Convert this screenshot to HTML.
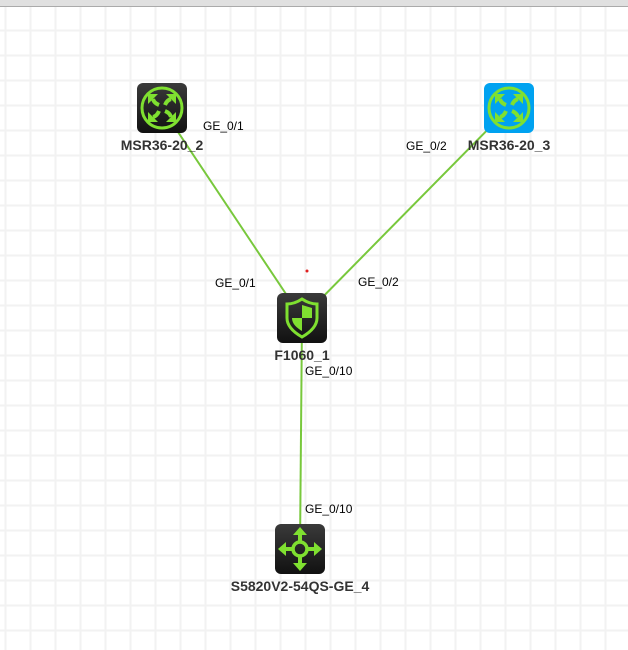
<!DOCTYPE html>
<html><head><meta charset="utf-8"><style>
html,body{margin:0;padding:0;background:#fff;}
svg{display:block;}
text{font-family:"Liberation Sans",Arial,sans-serif;}
</style></head><body>
<svg width="628" height="650" viewBox="0 0 628 650" xmlns="http://www.w3.org/2000/svg">
<defs>
<pattern id="g" x="4.5" y="4.5" width="25" height="25" patternUnits="userSpaceOnUse">
<rect x="0" y="0" width="2" height="25" fill="#f2f2f2"/>
<rect x="0" y="0" width="25" height="2" fill="#f2f2f2"/>
</pattern>
<linearGradient id="dk" x1="0" y1="0" x2="0" y2="1">
<stop offset="0" stop-color="#3a3a3a"/><stop offset="1" stop-color="#111"/>
</linearGradient>
<g id="a1">
<path d="M-3,-3 Q-8,-5 -9,-9" fill="none" stroke="#7fe030" stroke-width="4"/>
<polygon points="-14,-14 -4,-14 -14,-4" fill="#7fe030"/>
</g>
<g id="arrows">
<use href="#a1"/><use href="#a1" transform="rotate(90)"/><use href="#a1" transform="rotate(180)"/><use href="#a1" transform="rotate(270)"/>
</g>
</defs>
<rect width="628" height="650" fill="#fff"/>
<rect width="628" height="650" fill="url(#g)"/>
<rect x="0" y="0" width="628" height="6" fill="#e0e0e0"/>
<rect x="0" y="6" width="628" height="1" fill="#aaa"/>

<g stroke="#78c83c" stroke-width="2">
<line x1="162" y1="108" x2="302" y2="318"/>
<line x1="509" y1="108" x2="302" y2="318"/>
<line x1="302" y1="318" x2="300" y2="549"/>
</g>
<circle cx="307" cy="271" r="1.5" fill="#e02020"/>

<g transform="translate(162,108)">
<rect x="-25" y="-25" width="50" height="50" rx="6" fill="url(#dk)"/>
<circle r="20" fill="none" stroke="#7fe030" stroke-width="3"/>
<use href="#arrows"/>
</g>
<g transform="translate(509,108)">
<rect x="-25" y="-25" width="50" height="50" rx="6" fill="#00a2f0"/>
<circle r="20" fill="none" stroke="#7fe030" stroke-width="3"/>
<use href="#arrows"/>
</g>
<g transform="translate(302,318)">
<rect x="-25" y="-25" width="50" height="50" rx="6" fill="url(#dk)"/>
<path d="M0,-19 C6,-15 12,-14 15,-14 L15,0 C15,9 7,15 0,19 C-7,15 -15,9 -15,0 L-15,-14 C-12,-14 -6,-15 0,-19Z" fill="none" stroke="#7fe030" stroke-width="3"/>
<path d="M0,-13 L10,-10 L10,0 L0,0Z M0,0 L-10,0 C-10,6 -5,10 0,13Z" fill="#7fe030"/>
</g>
<g transform="translate(300,549)" fill="#7fe030" stroke="#7fe030">
<rect x="-25" y="-25" width="50" height="50" rx="6" fill="url(#dk)" stroke="none"/>
<circle r="7" fill="none" stroke-width="3.5"/>
<g stroke-width="4"><line x1="0" y1="-7" x2="0" y2="-15"/><line x1="0" y1="7" x2="0" y2="15"/><line x1="-7" y1="0" x2="-15" y2="0"/><line x1="7" y1="0" x2="15" y2="0"/></g>
<g stroke="none"><polygon points="0,-22 -7,-14 7,-14"/><polygon points="0,22 -7,14 7,14"/><polygon points="-22,0 -14,-7 -14,7"/><polygon points="22,0 14,-7 14,7"/></g>
</g>

<g font-size="14" font-weight="bold" fill="#333" text-anchor="middle">
<text x="162" y="150">MSR36-20_2</text>
<text x="509" y="150">MSR36-20_3</text>
<text x="302" y="360">F1060_1</text>
<text x="300" y="591">S5820V2-54QS-GE_4</text>
</g>
<g font-size="12" fill="#000">
<text x="203" y="130">GE_0/1</text>
<text x="406" y="150">GE_0/2</text>
<text x="215" y="287">GE_0/1</text>
<text x="358" y="286">GE_0/2</text>
<text x="305" y="375">GE_0/10</text>
<text x="305" y="513">GE_0/10</text>
</g>
</svg>
</body></html>
